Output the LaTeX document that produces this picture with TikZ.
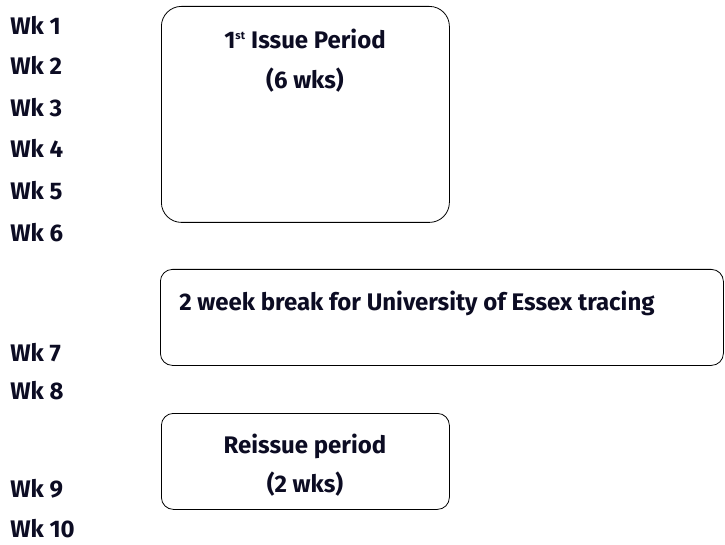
\documentclass[tikz,border=0pt]{standalone}
\usepackage{fontspec}
\setmainfont{Fira Sans}
\usetikzlibrary{positioning}
\definecolor{inknavy}{RGB}{12,12,35}

\begin{document}
\begin{tikzpicture}[x=1pt, y=-1pt, semithick, node distance=41.5pt,
  font=\bfseries\fontsize{24}{28}\selectfont, text=inknavy]
\tikzstyle{week} = [anchor=base west, inner sep=0pt]
\tikzstyle{period} = [draw=black, thick, inner sep=0pt, anchor=north west]
\tikzstyle{caption} = [align=center, inner sep=0pt, anchor=base]

\useasboundingbox (0,0) rectangle (725,545);

% week labels
\node[week] (wk1) at (10,35) {Wk 1};
\node[week] (wk2) at (10,75) {Wk 2};
\node[week] (wk3) at (10,117) {Wk 3};
\node[week] (wk4) at (10,158) {Wk 4};
\node[week] (wk5) at (10,200) {Wk 5};
\node[week] (wk6) at (10,242) {Wk 6};
\node[week] (wk7) at (10,361) {Wk 7};
\node[week] (wk8) at (10,399) {Wk 8};
\node[week] (wk9) at (10,497) {Wk 9};
\node[week] (wk10) at (10,537) {Wk 10};

% periods
\node[period, rounded corners=20pt, minimum width=288pt, minimum height=216pt] (issue) at (161,6) {};
\node[caption] (issuetxt) at (305,49) {1\textsuperscript{\fontsize{11}{11}\selectfont st} Issue Period};
\node[caption] (issuewks) at (305,89) {(6 wks)};

\node[period, rounded corners=12pt, minimum width=563pt, minimum height=96pt] (gap) at (160,269) {};
\node[week] (gaptxt) at (179,310) {2 week break for University of Essex tracing};

\node[period, rounded corners=12pt, minimum width=288pt, minimum height=96pt] (reissue) at (161,413) {};
\node[caption] (reissuetxt) at (305,453) {Reissue period};
\node[caption] (reissuewks) at (305,492) {(2 wks)};

\end{tikzpicture}
\end{document}
